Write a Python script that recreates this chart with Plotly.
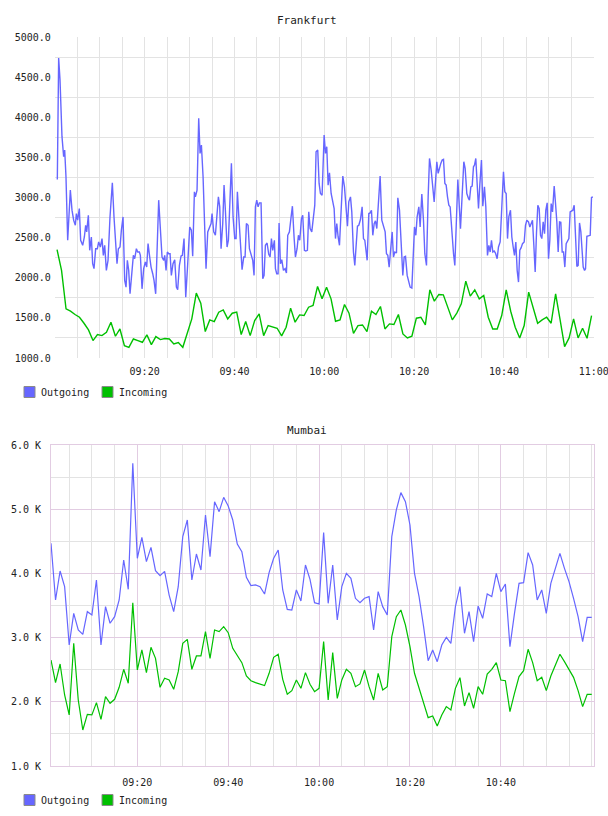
import pandas as pd
import plotly.graph_objects as go

# ---------------- data ----------------
# Frankfurt, Outgoing: minutes after 09:00 and values
fra_out_min = [
    0.56, 0.86, 1.16, 1.60, 1.97, 2.20, 2.49, 2.87, 3.46, 3.83,
    4.20, 4.57, 4.80, 5.09, 5.46, 5.76, 6.21, 6.58, 6.87, 7.10,
    7.47, 7.77, 8.14, 8.43, 8.73, 9.10, 9.47, 9.77, 10.14, 10.51,
    10.81, 11.11, 11.48, 11.85, 12.29, 12.59, 12.81, 13.18, 13.48, 13.85,
    14.15, 14.52, 14.82, 15.19, 15.56, 15.86, 16.15, 16.45, 16.75, 17.19,
    17.49, 17.79, 18.16, 18.46, 18.83, 19.05, 19.42, 19.79, 20.16, 20.46,
    20.76, 21.13, 21.43, 21.80, 22.09, 22.46, 22.84, 23.13, 23.50, 23.87,
    24.25, 24.47, 24.77, 25.06, 25.36, 25.66, 25.95, 26.32, 26.70, 27.07,
    27.36, 27.74, 28.11, 28.40, 28.77, 29.15, 29.59, 30.04, 30.41,
    30.70, 31.08, 31.30, 31.67, 32.04, 32.34, 32.64, 33.01, 33.38, 33.67,
    34.05, 34.42, 34.79, 35.01, 35.38, 35.75, 36.12, 36.42, 36.72, 37.02,
    37.39, 37.68, 37.98, 38.35, 38.65, 39.02, 39.32, 39.69, 40.06, 40.36,
    40.65, 41.02, 41.40, 41.69, 42.06, 42.36, 42.66, 43.03, 43.33, 43.70,
    44.07, 44.36, 44.66, 44.96, 45.26, 45.55, 45.92, 46.30, 46.59, 46.89,
    47.26, 47.63, 47.93, 48.23, 48.52, 48.89, 49.12, 49.41, 49.71, 49.93,
    50.23, 50.53, 50.90, 51.27, 51.57, 51.86, 52.23, 52.61, 52.90, 53.27,
    53.57, 53.94, 54.24, 54.54, 54.91, 55.20, 55.58, 55.87, 56.24, 56.54,
    56.84, 57.21, 57.51, 57.88, 58.17, 58.54, 58.84, 59.14, 59.51,
    59.96, 60.26, 60.55, 60.85, 61.15, 61.52, 61.89, 62.19, 62.49, 62.78,
    63.08, 63.38, 63.75, 64.12, 64.49, 64.86, 65.16, 65.45, 65.83, 66.12,
    66.49, 66.79, 67.09, 67.38, 67.68, 68.05, 68.42, 68.72, 69.02, 69.31,
    69.54, 69.91, 70.21, 70.50, 70.80, 71.10, 71.39, 71.69, 72.06, 72.43,
    72.80, 73.18, 73.55, 73.84, 74.14, 74.44, 74.73, 75.11, 75.40, 75.70,
    76.07, 76.37, 76.74, 77.11, 77.48, 77.78, 78.08, 78.45, 78.74, 79.11,
    79.49, 79.78, 80.08, 80.38, 80.67, 81.05, 81.34, 81.71, 82.08, 82.38,
    82.75, 83.12, 83.42, 83.79, 84.16, 84.46, 84.83, 85.05, 85.35, 85.65,
    85.94, 86.24, 86.54, 86.84, 87.13, 87.43, 87.73, 88.02, 88.39, 88.77,
    89.06, 89.43, 89.73,
    90.32, 91.06, 91.36, 91.73, 92.10, 92.32, 92.62, 92.92, 93.21, 93.44,
    93.73, 94.03, 94.33, 94.62, 94.99, 95.29, 95.66, 95.96, 96.33, 96.63,
    96.93, 97.22, 97.52, 97.82, 98.11, 98.48, 98.78, 99.15, 99.52, 99.89,
    100.19, 100.49, 100.79, 101.08, 101.45, 101.75, 102.05, 102.34, 102.64, 102.94,
    103.24, 103.53, 103.83, 104.13, 104.50, 104.79, 105.09, 105.46, 105.76, 106.06,
    106.35, 106.65, 106.95, 107.24, 107.54, 107.84, 108.14, 108.43, 108.73, 109.03,
    109.32, 109.62, 109.92, 110.21, 110.51, 110.81, 111.18, 111.48, 111.77, 112.07,
    112.37, 112.66, 112.96, 113.26, 113.55, 113.85, 114.15, 114.45, 114.74, 115.04,
    115.34, 115.63, 115.93, 116.23, 116.52, 116.82, 117.12, 117.42, 117.64, 117.94,
    118.16, 118.46, 118.83, 119.20, 119.49, 119.79,
]
fra_out_val = [
    3225, 4737, 4467, 3758, 3508, 3592, 3258, 2467, 3092, 2842,
    2717, 2654, 2800, 2717, 2862, 2467, 2404, 2508, 2654, 2571,
    2779, 2342, 2508, 2175, 2113, 2362, 2362, 2446, 2383, 2488,
    2279, 2404, 2092, 2217, 2758, 3092, 3183, 2758, 2508, 2175,
    2362, 2383, 2592, 2758, 1967, 1883, 2217, 2092, 1800, 2133,
    2279, 2237, 2362, 2321, 2321, 2279, 1862, 2113, 2196, 2133,
    2425, 2258, 2133, 2050, 1967, 1800, 2425, 2967, 2613, 2258,
    2217, 2279, 2092, 2321, 2300, 2300, 2029, 2175, 2225, 1883,
    1850, 2154, 2271, 2279, 2488, 1758, 2175, 2633, 2592,
    2267, 3071, 3008, 3092, 3988, 3550, 3654, 3258, 2508, 2113,
    2571, 2633, 2675, 2800, 2571, 2529, 2758, 3008, 2883, 2362,
    2675, 3154, 2842, 2383, 2467, 3175, 3425, 2758, 2488, 2488,
    3071, 2717, 2342, 2100, 2258, 2258, 2675, 2654, 2362, 2279,
    2217, 2029, 2883, 2967, 2883, 2933, 2933, 1988, 2029, 2404,
    2433, 2292, 2258, 2488, 2342, 2467, 2113, 2050, 2050, 2683,
    2175, 2225, 2092, 2113, 2058, 2529, 2571, 2758, 2892, 2508,
    2258, 2362, 2529, 2467, 2737, 2779, 2342, 2333, 2342, 2821,
    2613, 2571, 2737, 2904, 3571, 3592, 3175, 3050, 3029,
    3779, 3550, 3633, 3154, 3308, 3050, 2925, 2862, 2488, 2675,
    2508, 2404, 2842, 3267, 3133, 2883, 2642, 2946, 3008, 2821,
    2321, 2154, 2383, 2642, 2654, 2725, 2883, 2488, 2467, 2342,
    2217, 2800, 2808, 2842, 2529, 2675, 2708, 2613, 2883, 3267,
    2717, 2633, 2571, 2300, 2279, 2133, 2362, 2571, 2258, 2321,
    2308, 2996, 2842, 2342, 2029, 2258, 2267, 2029, 1967, 1883,
    1871, 2258, 2633, 2529, 2758, 2883, 2633, 3042, 2717, 2300,
    2154, 3008, 3487, 3342, 3100, 2946, 3258, 3446, 3300, 3383,
    3425, 3467, 3475, 3175, 3154, 3008, 2904, 2883, 2529, 2300,
    2154, 2633, 3225,
    2612, 3446, 3362, 3050, 2988, 2967, 3133, 3142, 3383, 3404,
    3487, 3175, 2862, 3154, 3467, 2892, 3133, 2883, 2279, 2404,
    2321, 2467, 2321, 2333, 2308, 2237, 2383, 2446, 2842, 3321,
    3071, 3050, 2488, 2758, 2842, 2508, 2383, 2279, 2446, 2092,
    1946, 2342, 2375, 2425, 2446, 2654, 2717, 2696, 2633, 2675,
    2717, 2404, 2071, 2562, 2904, 2862, 2529, 2488, 2696, 2550,
    2842, 2933, 2237, 2467, 2925, 2821, 3142, 2925, 2696, 2321,
    2696, 2692, 2321, 2321, 2133, 2425, 2467, 2488, 2821, 2833,
    2842, 2904, 2571, 2142, 2154, 2683, 2571, 2342, 2133, 2092,
    2113, 2517, 2525, 2529, 3000, 3008,
]
# Frankfurt, Incoming: one value per minute, from 09:00:30
fra_in_val = [
    2350, 2092, 1612, 1583, 1542, 1508, 1433, 1350, 1217, 1292,
    1279, 1321, 1446, 1271, 1362, 1154, 1133, 1237, 1217, 1196,
    1288, 1167, 1267, 1229, 1242, 1237, 1175, 1192, 1133, 1300,
    1488, 1808, 1683, 1329, 1475, 1454, 1571, 1600, 1488, 1558,
    1571, 1292, 1454, 1279, 1467, 1550, 1279, 1404, 1383, 1371,
    1275, 1383, 1621, 1446, 1537, 1529, 1633, 1654, 1892, 1737,
    1883, 1737, 1458, 1475, 1667, 1558, 1308, 1404, 1412, 1329,
    1583, 1542, 1642, 1362, 1425, 1417, 1542, 1300, 1250, 1271,
    1496, 1508, 1412, 1850, 1708, 1792, 1787, 1633, 1475, 1560,
    1675, 1958, 1771, 1850, 1737, 1779, 1508, 1362, 1362, 1529,
    1850, 1583, 1383, 1250, 1404, 1821, 1625, 1433, 1475, 1508,
    1433, 1800, 1475, 1142, 1250, 1488, 1250, 1371, 1246, 1529,
]
# Mumbai: one value per minute, from 09:01
mum_out_val = [
    4468, 3586, 4037, 3793, 2885, 3378, 3119, 3051, 3404, 3352,
    3897, 2885, 3482, 3223, 3326, 3586, 4209, 3752, 5714, 4235,
    4562, 4183, 4406, 4043, 3965, 4032, 3663, 3404, 3793, 4572,
    4832, 3897, 4302, 4053, 4910, 4261, 5117, 4962, 5185, 5050,
    4832, 4458, 4339, 3939, 3809, 3820, 3794, 3679, 4012, 4235,
    4365, 3742, 3440, 3430, 3742, 3570, 4131, 3908, 3544, 3524,
    4635, 3534, 4131, 3274, 3794, 4001, 3923, 3612, 3544, 3612,
    3638, 3119, 3716, 3482, 3352, 4572, 4988, 5258, 5117, 4754,
    4001, 3638, 3170, 2641, 2807, 2625, 2885, 3004, 2911, 3482,
    3794, 3067, 3404, 2937, 3492, 3300, 3679, 3638, 4001, 3716,
    3835, 2859, 3378, 3845, 3856, 4323, 4131, 3586, 3742, 3378,
    3845, 4079, 4313, 4079, 3871, 3612, 3326, 2937, 3316, 3316,
]
mum_in_val = [
    2651, 2298, 2589, 2106, 1795, 2911, 2028, 1561, 1805, 1795,
    1987, 1727, 2080, 1977, 2039, 2226, 2506, 2288, 3544, 2496,
    2807, 2454, 2849, 2677, 2226, 2366, 2340, 2195, 2470, 2911,
    2973, 2506, 2714, 2714, 3093, 2677, 3119, 3093, 3170, 3077,
    2833, 2729, 2610, 2402, 2329, 2298, 2278, 2252, 2444, 2693,
    2740, 2350, 2117, 2174, 2340, 2210, 2454, 2272, 2158, 2210,
    2937, 2028, 2766, 2054, 2340, 2506, 2444, 2236, 2278, 2496,
    2236, 2028, 2444, 2184, 2236, 3015, 3326, 3430, 3196, 2859,
    2444, 2210, 1950, 1753, 1779, 1624, 1795, 1925, 1873, 2210,
    2376, 1935, 2143, 1899, 2236, 2117, 2433, 2506, 2610, 2340,
    2329, 1847, 2132, 2392, 2485, 2818, 2610, 2329, 2381, 2174,
    2402, 2574, 2740, 2625, 2496, 2381, 2174, 1925, 2117, 2117,
]
fra_in_min = [0.5 + k for k in range(len(fra_in_val))]
mum_min = [1 + k for k in range(len(mum_out_val))]

time_labels_fra = ["09:20", "09:40", "10:00", "10:20", "10:40", "11:00"]
time_labels_mum = ["09:20", "09:40", "10:00", "10:20", "10:40"]
fra_y_ticks = [1000, 1500, 2000, 2500, 3000, 3500, 4000, 4500, 5000]
mum_y_ticks = [1000, 2000, 3000, 4000, 5000, 6000]
mum_y_text = ["1.0 K", "2.0 K", "3.0 K", "4.0 K", "5.0 K", "6.0 K"]
series_names = ["Outgoing", "Incoming"]

assert len(fra_out_min) == len(fra_out_val)

# ---------------- helpers ----------------
BASE = pd.Timestamp("2024-01-01 09:00:00")
W, H = 608, 816


def tm(mins):
    return [BASE + pd.Timedelta(minutes=float(m)) for m in mins]


def hm(label):
    return BASE.normalize() + pd.Timedelta(label + ":00")


def px(x):
    return x / W


def py(y):
    return 1 - y / H


BLUE = "#6666ff"
GREEN = "#00c000"
FONT = "DejaVu Sans Mono"
TXT = "#222222"
GRID = "#e3e3e3"
PINK = "#e2cce2"

fig = go.Figure()
fig.add_trace(go.Scatter(x=tm(fra_out_min), y=fra_out_val, mode="lines",
                         line=dict(color=BLUE, width=1.4), name=series_names[0],
                         xaxis="x", yaxis="y"))
fig.add_trace(go.Scatter(x=tm(fra_in_min), y=fra_in_val, mode="lines",
                         line=dict(color=GREEN, width=1.4), name=series_names[1],
                         xaxis="x", yaxis="y"))
fig.add_trace(go.Scatter(x=tm(mum_min), y=mum_out_val, mode="lines",
                         line=dict(color=BLUE, width=1.2), name=series_names[0],
                         xaxis="x2", yaxis="y2"))
fig.add_trace(go.Scatter(x=tm(mum_min), y=mum_in_val, mode="lines",
                         line=dict(color=GREEN, width=1.2), name=series_names[1],
                         xaxis="x2", yaxis="y2"))

five_min = [BASE + pd.Timedelta(minutes=m) for m in range(5, 121, 5)]
tickfont = dict(family=FONT, size=10, color=TXT)

fig.update_layout(
    width=W, height=H, margin=dict(l=0, r=0, t=0, b=0),
    paper_bgcolor="white", plot_bgcolor="white", showlegend=False,
    xaxis=dict(
        domain=[px(54.8), px(594.25)], anchor="y", type="date",
        range=[BASE, BASE + pd.Timedelta(minutes=120.1)],
        tickmode="array", tickvals=[hm(t) for t in time_labels_fra],
        ticktext=time_labels_fra, tickfont=tickfont, ticks="",
        ticklabelstandoff=6, automargin=False, ticklabeloverflow="allow",
        showgrid=True, gridcolor=GRID, gridwidth=1, zeroline=False, showline=False,
        minor=dict(tickvals=five_min, showgrid=True, gridcolor=GRID, ticks=""),
    ),
    yaxis=dict(
        domain=[py(358), py(37)], anchor="x", range=[1000, 5000],
        tickmode="array", tickvals=fra_y_ticks, tickformat=".1f",
        tickfont=tickfont, ticks="", ticklabelstandoff=3, automargin=False,
        showgrid=False, zeroline=False, showline=False,
        minor=dict(tickvals=[v + 250 for v in fra_y_ticks[:-1]], showgrid=True,
                   gridcolor=GRID, ticks=""),
    ),
    xaxis2=dict(
        domain=[px(51), px(594)], anchor="y2", type="date",
        range=[BASE + pd.Timedelta(minutes=1), BASE + pd.Timedelta(minutes=120.5)],
        tickmode="array", tickvals=[hm(t) for t in time_labels_mum],
        ticktext=time_labels_mum, tickfont=tickfont, ticks="",
        ticklabelstandoff=7, automargin=False,
        showgrid=True, gridcolor=PINK, gridwidth=1, zeroline=False,
        showline=True, mirror=True, linecolor=PINK, linewidth=1,
        minor=dict(tickvals=five_min, showgrid=True, gridcolor=GRID, ticks=""),
    ),
    yaxis2=dict(
        domain=[py(766), py(445)], anchor="x2", range=[1000, 6000],
        tickmode="array", tickvals=mum_y_ticks, ticktext=mum_y_text,
        tickfont=tickfont, ticks="", ticklabelstandoff=7, automargin=False,
        showgrid=True, gridcolor=PINK, zeroline=False,
        showline=True, mirror=True, linecolor=PINK, linewidth=1,
        minor=dict(tickvals=[v + 500 for v in mum_y_ticks[:-1]], showgrid=True,
                   gridcolor=GRID, ticks=""),
    ),
)

# titles
for title, ycen in (("Frankfurt", 20), ("Mumbai", 430)):
    fig.add_annotation(text=title, x=px(307), y=py(ycen), xref="paper", yref="paper",
                       xanchor="center", yanchor="middle", showarrow=False,
                       font=dict(family=FONT, size=11, color=TXT))

# legends (square swatches + labels)
for ycen in (392, 800):
    for name, color, x0 in ((series_names[0], BLUE, 24), (series_names[1], GREEN, 102)):
        fig.add_shape(type="rect", xref="paper", yref="paper",
                      x0=px(x0), x1=px(x0 + 11), y0=py(ycen + 5.5), y1=py(ycen - 5.5),
                      fillcolor=color, line=dict(color="#8a8a8a", width=1))
        fig.add_annotation(text=name, x=px(x0 + 15), y=py(ycen), xref="paper", yref="paper",
                           xanchor="left", yanchor="middle", showarrow=False,
                           font=dict(family=FONT, size=10, color=TXT))

fig.write_html("out.html")
